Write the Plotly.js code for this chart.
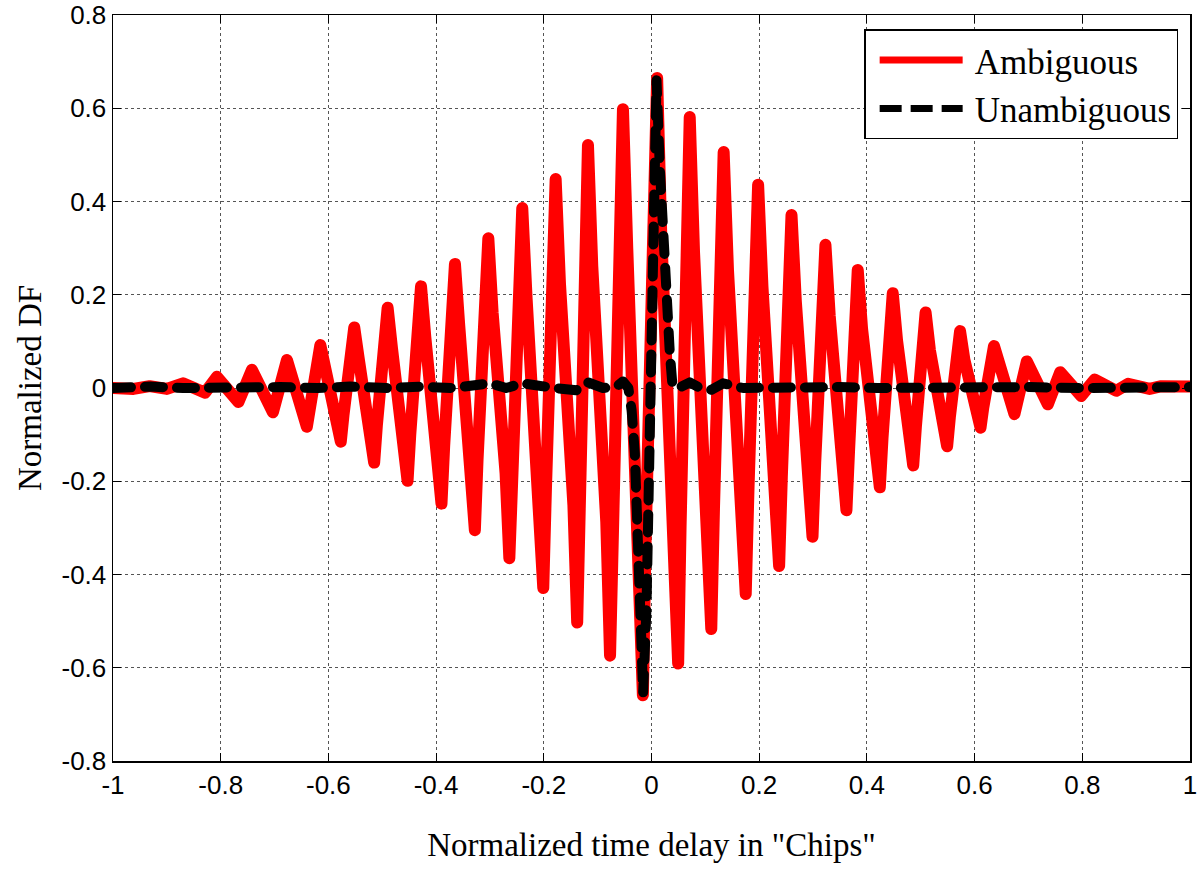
<!DOCTYPE html>
<html>
<head>
<meta charset="utf-8">
<script src="https://cdn.plot.ly/plotly-3.0.1.min.js"></script>
<style>
  html, body { margin: 0; padding: 0; background: #fff; }
  #chart { width: 1200px; height: 869px; }
  .scatterlayer .js-line { stroke-linejoin: round; stroke-linecap: round; }
</style>
</head>
<body>
<div id="chart"></div>
<script>
// Ambiguous (red) discriminator function: extrema and edge shoulders
const ambX = [-1, -0.962, -0.932, -0.900, -0.870, -0.829, -0.807, -0.767, -0.742, -0.703,
  -0.677, -0.640, -0.615,
  -0.607, -0.584, -0.577, -0.572, -0.557, -0.552, -0.544, -0.522, -0.515, -0.510, -0.495, -0.490,
  -0.482, -0.460, -0.453, -0.448, -0.433, -0.428, -0.420, -0.397, -0.390, -0.385, -0.370, -0.365,
  -0.357, -0.335, -0.328, -0.323, -0.308, -0.303, -0.295, -0.271, -0.264, -0.259, -0.245, -0.240,
  -0.232, -0.208, -0.201, -0.196, -0.183, -0.178, -0.170, -0.145, -0.138, -0.133, -0.123, -0.118,
  -0.110, -0.084, -0.077, -0.072, -0.058, -0.053, -0.045, -0.023, -0.016, -0.011, 0.005, 0.0105,
  0.018, 0.042, 0.0495, 0.054, 0.066, 0.071, 0.079, 0.104, 0.111, 0.116, 0.129, 0.134,
  0.142, 0.168, 0.175, 0.180, 0.193, 0.198, 0.206, 0.230, 0.237, 0.242, 0.255, 0.260,
  0.268, 0.292, 0.299, 0.304, 0.318, 0.323, 0.331, 0.355, 0.362, 0.367, 0.378, 0.383,
  0.391, 0.417, 0.424, 0.429, 0.443, 0.448, 0.456, 0.479, 0.486, 0.491, 0.504, 0.509,
  0.517, 0.542, 0.549, 0.554, 0.568, 0.573, 0.581, 0.604, 0.611, 0.616, 0.631, 0.636,
  0.674, 0.697, 0.736, 0.759, 0.798, 0.823, 0.863, 0.885, 0.925, 0.947, 1];
const ambY = [0, -0.002, 0.004, -0.002, 0.010, -0.010, 0.024, -0.030, 0.039, -0.052,
  0.060, -0.083, 0.092,
  0.046, -0.058, -0.115, -0.058, 0.065, 0.130, 0.065, -0.080, -0.160, -0.080, 0.086, 0.172,
  0.086, -0.100, -0.199, -0.100, 0.109, 0.218, 0.109, -0.124, -0.248, -0.124, 0.133, 0.266,
  0.133, -0.153, -0.305, -0.153, 0.161, 0.321, 0.161, -0.183, -0.365, -0.183, 0.193, 0.386,
  0.193, -0.215, -0.429, -0.215, 0.224, 0.448, 0.224, -0.252, -0.503, -0.252, 0.261, 0.521,
  0.261, -0.287, -0.574, -0.287, 0.299, 0.598, 0.299, -0.330, -0.659, -0.330, 0.333, 0.665,
  0.333, -0.296, -0.591, -0.296, 0.291, 0.581, 0.291, -0.259, -0.517, -0.259, 0.253, 0.506,
  0.253, -0.221, -0.442, -0.221, 0.218, 0.436, 0.218, -0.191, -0.382, -0.191, 0.186, 0.371,
  0.186, -0.160, -0.319, -0.160, 0.154, 0.307, 0.154, -0.131, -0.262, -0.131, 0.127, 0.253,
  0.127, -0.107, -0.213, -0.107, 0.102, 0.203, 0.102, -0.083, -0.166, -0.083, 0.081, 0.162,
  0.081, -0.063, -0.125, -0.063, 0.061, 0.122, 0.061, -0.043, -0.085, -0.043, 0.045, 0.090,
  -0.056, 0.057, -0.035, 0.034, -0.017, 0.018, -0.006, 0.009, -0.002, 0.004, 0.003];

// Unambiguous (black dashed) discriminator function
const unaX = [-1, -0.96, -0.93, -0.87, -0.81, -0.75, -0.69, -0.62, -0.56, -0.49,
  -0.43, -0.37, -0.30, -0.27, -0.24, -0.18, -0.14, -0.118, -0.09, -0.065,
  -0.053, -0.043, -0.037, -0.031, -0.025, -0.019, -0.0155, -0.0093, -0.003, 0.003,
  0.0093, 0.0155, 0.0217, 0.028, 0.034, 0.039, 0.05, 0.071, 0.09, 0.111,
  0.133, 0.17, 0.22, 0.28, 0.35, 0.42, 0.5, 0.6, 0.7, 0.8,
  0.9, 1];
const unaY = [0, 0.002, 0.003, 0, 0.002, 0, 0.002, 0, 0.003, 0,
  0.003, 0, 0.010, 0, 0.010, 0, -0.005, 0.012, 0, 0.003,
  0.014, 0, -0.047, -0.14, -0.31, -0.51, -0.654, -0.47, -0.09, 0.37,
  0.66, 0.47, 0.31, 0.185, 0.075, 0.005, 0, 0.012, 0, -0.004,
  0.010, 0, 0.002, 0, 0.002, 0, 0.002, 0, 0.002, 0,
  0, 0.002];

const xTicks = [-1, -0.8, -0.6, -0.4, -0.2, 0, 0.2, 0.4, 0.6, 0.8, 1];
const xTickText = ['-1', '-0.8', '-0.6', '-0.4', '-0.2', '0', '0.2', '0.4', '0.6', '0.8', '1'];
const yTicks = [-0.8, -0.6, -0.4, -0.2, 0, 0.2, 0.4, 0.6, 0.8];
const yTickText = ['-0.8', '-0.6', '-0.4', '-0.2', '0', '0.2', '0.4', '0.6', '0.8'];

const traces = [
  {
    x: ambX, y: ambY, type: 'scatter', mode: 'lines', name: 'Ambiguous',
    legendgroup: 'a',
    line: { color: '#ff0000', width: 12 }
  },
  {
    x: unaX, y: unaY, type: 'scatter', mode: 'lines', name: 'Unambiguous',
    legendgroup: 'b',
    line: { color: '#000000', width: 10, dash: '18px,14px' }
  }
];

const serif = 'Liberation Serif, Times New Roman, serif';
const sans = 'Liberation Sans, Arial, sans-serif';

const layout = {
  width: 1200, height: 869,
  margin: { l: 113, r: 10, t: 15, b: 108 },
  paper_bgcolor: '#fff', plot_bgcolor: '#fff',
  showlegend: true,
  legend: {
    x: 0.989, y: 0.981, xanchor: 'right', yanchor: 'top',
    bgcolor: '#fff', bordercolor: '#000', borderwidth: 1.5,
    font: { family: serif, size: 35, color: '#000' },
    itemwidth: 99, tracegroupgap: 0
  },
  xaxis: {
    range: [-1, 1], tickmode: 'array', tickvals: xTicks, ticktext: xTickText,
    showline: true, linecolor: '#000', linewidth: 1.5, mirror: 'ticks',
    ticks: 'inside', ticklen: 8, tickwidth: 1, tickcolor: '#000',
    showgrid: true, gridcolor: '#555', gridwidth: 1, griddash: 'dot',
    zeroline: false,
    tickfont: { family: sans, size: 26, color: '#000' },
    title: { text: 'Normalized time delay in "Chips"', standoff: 34,
      font: { family: serif, size: 33, color: '#000' } }
  },
  yaxis: {
    range: [-0.8, 0.8], tickmode: 'array', tickvals: yTicks, ticktext: yTickText,
    showline: true, linecolor: '#000', linewidth: 1.5, mirror: 'ticks',
    ticks: 'inside', ticklen: 8, tickwidth: 1, tickcolor: '#000',
    showgrid: true, gridcolor: '#555', gridwidth: 1, griddash: 'dot',
    zeroline: false,
    tickfont: { family: sans, size: 26, color: '#000' },
    title: { text: 'Normalized DF', standoff: 10,
      font: { family: serif, size: 33, color: '#000' } }
  }
};

Plotly.newPlot('chart', traces, layout, { displayModeBar: false, staticPlot: true }).then(function (gd) {
  // lengthen legend line samples like the original
  const paths = gd.querySelectorAll('.legend .legendlines path');
  paths.forEach(function (p, i) {
    p.setAttribute('d', 'M14,0h83');
    p.style.strokeWidth = '7px';
    p.style.strokeLinecap = 'butt';
    if (i === 1) p.style.strokeDasharray = '22px,9px';
  });
});
</script>
</body>
</html>
